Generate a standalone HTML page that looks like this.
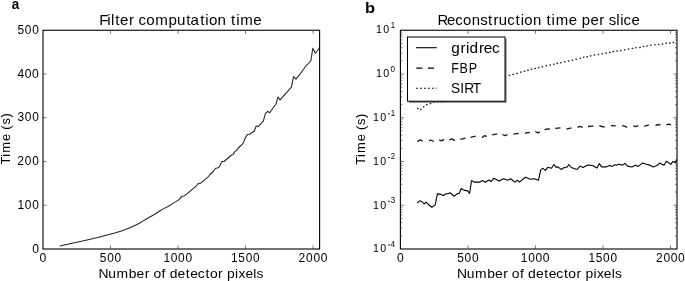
<!DOCTYPE html><html><head><meta charset="utf-8"><style>html,body{margin:0;padding:0;background:#fff;overflow:hidden;}svg{display:block;filter:grayscale(1);}</style></head><body><svg width="685" height="281" viewBox="0 0 685 281">
<rect width="685" height="281" fill="#fff"/>
<g font-family="Liberation Sans, sans-serif" fill="#000">
<text transform="scale(0.9164,1)" x="12.89" y="9.00" font-size="14.71" font-weight="bold">a</text>
<text transform="scale(1.1092,1)" x="329.07" y="12.60" font-size="14.85" font-weight="bold">b</text>
<text transform="scale(1.0432,1)" x="95.14 102.70 106.39 110.38 115.11 123.74 124.74 132.72 140.18 148.72 161.44 169.74 178.55 182.72 191.87 196.76 200.24 208.53 209.53 221.49 226.38 230.28 242.82" y="25.30" font-size="14.52">Filter computation time</text>
<text transform="scale(1.0300,1)" x="424.82 434.04 442.08 449.64 458.03 466.25 473.86 479.14 484.25 492.47 500.53 505.48 509.02 517.42 518.42 530.52 535.46 539.47 552.14 553.14 564.85 573.19 581.92 582.92 591.07 598.36 602.09 605.47 613.07" y="25.30" font-size="14.52">Reconstruction time per slice</text>
<text transform="scale(1.0489,1)" x="93.91 103.29 111.18 122.71 130.17 138.00 139.00 146.27 154.05 155.05 161.74 169.34 177.17 181.44 188.63 195.87 200.10 207.93 208.93 216.41 224.03 227.39 233.95 241.50 244.54" y="277.80" font-size="13.23">Number of detector pixels</text>
<text transform="scale(1.0489,1)" x="435.64 445.02 452.91 464.44 471.90 479.73 480.73 488.00 495.78 496.78 503.46 511.06 518.89 523.16 530.36 537.60 541.82 549.65 550.65 558.14 565.76 569.12 575.67 583.22 586.26" y="277.80" font-size="13.23">Number of detector pixels</text>
<text transform="translate(10.10,164.60) rotate(-90) scale(0.9821,1)" x="0.23 8.06 12.06 24.00 25.00 35.58 40.71 47.87" y="0" font-size="13.15">Time (s)</text>
<text transform="translate(364.50,164.90) rotate(-90) scale(0.9821,1)" x="0.23 8.06 12.06 24.00 25.00 35.58 40.71 47.87" y="0" font-size="13.15">Time (s)</text>
<text transform="scale(1.0042,1)" x="39.46" y="261.60" font-size="12.08">0</text>
<text transform="scale(1.0042,1)" x="395.37" y="261.60" font-size="12.08">0</text>
<text transform="scale(0.9857,1)" x="101.24 108.71 116.14" y="261.60" font-size="12.08">500</text>
<text transform="scale(0.9857,1)" x="463.84 471.31 478.73" y="261.60" font-size="12.08">500</text>
<text transform="scale(0.9937,1)" x="164.47 171.89 179.25 186.61" y="261.60" font-size="12.08">1000</text>
<text transform="scale(0.9937,1)" x="524.11 531.54 538.90 546.26" y="261.60" font-size="12.08">1000</text>
<text transform="scale(0.9795,1)" x="235.85 243.33 250.85 258.32" y="261.60" font-size="12.08">1500</text>
<text transform="scale(0.9795,1)" x="600.73 608.21 615.73 623.19" y="261.60" font-size="12.08">1500</text>
<text transform="scale(0.9952,1)" x="300.04 307.55 314.90 322.25" y="261.60" font-size="12.08">2000</text>
<text transform="scale(0.9952,1)" x="659.16 666.67 674.02 681.37" y="261.60" font-size="12.08">2000</text>
<text transform="scale(1.0042,1)" x="32.00" y="252.70" font-size="12.08">0</text>
<text transform="scale(0.9901,1)" x="17.66 25.11 32.50" y="208.95" font-size="12.08">100</text>
<text transform="scale(0.9922,1)" x="17.52 25.05 32.43" y="165.20" font-size="12.08">200</text>
<text transform="scale(0.9910,1)" x="17.71 25.08 32.47" y="121.45" font-size="12.08">300</text>
<text transform="scale(1.0039,1)" x="17.43 24.72 32.01" y="77.70" font-size="12.08">400</text>
<text transform="scale(0.9857,1)" x="17.77 25.24 32.66" y="33.95" font-size="12.08">500</text>
<text transform="scale(1.0034,1)" x="389.15" y="246.90" font-size="8.19">4</text>
<rect x="388.0" y="244.55" width="1.9" height="0.9"/>
<text transform="scale(0.9140,1)" x="408.15 415.92" y="252.40" font-size="11.65">10</text>
<text transform="scale(0.9644,1)" x="405.16" y="203.15" font-size="8.19">3</text>
<rect x="388.0" y="200.80" width="1.9" height="0.9"/>
<text transform="scale(0.9140,1)" x="408.15 415.92" y="208.65" font-size="11.65">10</text>
<text transform="scale(0.9670,1)" x="404.13" y="159.35" font-size="8.19">2</text>
<rect x="388.0" y="157.05" width="1.9" height="0.9"/>
<text transform="scale(0.9140,1)" x="408.15 415.92" y="164.85" font-size="11.65">10</text>
<text transform="scale(0.9590,1)" x="407.52" y="115.60" font-size="8.19">1</text>
<rect x="388.0" y="113.30" width="1.9" height="0.9"/>
<text transform="scale(0.9140,1)" x="408.15 415.92" y="121.10" font-size="11.65">10</text>
<text transform="scale(1.0042,1)" x="388.92" y="71.60" font-size="8.19">0</text>
<text transform="scale(0.9140,1)" x="411.43 419.21" y="77.10" font-size="11.65">10</text>
<text transform="scale(0.9590,1)" x="407.52" y="27.85" font-size="8.19">1</text>
<text transform="scale(0.9140,1)" x="411.43 419.21" y="33.35" font-size="11.65">10</text>
<rect x="43.0" y="30.25" width="276.60" height="218.75" fill="none" stroke="#000" stroke-width="1.1"/>
<rect x="400.4" y="30.25" width="276.60" height="218.75" fill="none" stroke="#000" stroke-width="1.1"/>
<path d="M110.53 249.00V245.40M110.53 30.25V33.85M467.93 249.00V245.40M467.93 30.25V33.85M178.06 249.00V245.40M178.06 30.25V33.85M535.46 249.00V245.40M535.46 30.25V33.85M245.59 249.00V245.40M245.59 30.25V33.85M602.99 249.00V245.40M602.99 30.25V33.85M313.12 249.00V245.40M313.12 30.25V33.85M670.52 249.00V245.40M670.52 30.25V33.85M43.00 205.25H46.60M43.00 161.50H46.60M43.00 117.75H46.60M43.00 74.00H46.60M400.40 235.83H402.40M677.00 235.83H675.00M400.40 228.13H402.40M677.00 228.13H675.00M400.40 222.66H402.40M677.00 222.66H675.00M400.40 218.42H402.40M677.00 218.42H675.00M400.40 214.96H402.40M677.00 214.96H675.00M400.40 212.03H402.40M677.00 212.03H675.00M400.40 209.49H402.40M677.00 209.49H675.00M400.40 207.25H402.40M677.00 207.25H675.00M400.40 205.25H404.00M677.00 205.25H673.40M400.40 192.08H402.40M677.00 192.08H675.00M400.40 184.38H402.40M677.00 184.38H675.00M400.40 178.91H402.40M677.00 178.91H675.00M400.40 174.67H402.40M677.00 174.67H675.00M400.40 171.21H402.40M677.00 171.21H675.00M400.40 168.28H402.40M677.00 168.28H675.00M400.40 165.74H402.40M677.00 165.74H675.00M400.40 163.50H402.40M677.00 163.50H675.00M400.40 161.50H404.00M677.00 161.50H673.40M400.40 148.33H402.40M677.00 148.33H675.00M400.40 140.63H402.40M677.00 140.63H675.00M400.40 135.16H402.40M677.00 135.16H675.00M400.40 130.92H402.40M677.00 130.92H675.00M400.40 127.46H402.40M677.00 127.46H675.00M400.40 124.53H402.40M677.00 124.53H675.00M400.40 121.99H402.40M677.00 121.99H675.00M400.40 119.75H402.40M677.00 119.75H675.00M400.40 117.75H404.00M677.00 117.75H673.40M400.40 104.58H402.40M677.00 104.58H675.00M400.40 96.88H402.40M677.00 96.88H675.00M400.40 91.41H402.40M677.00 91.41H675.00M400.40 87.17H402.40M677.00 87.17H675.00M400.40 83.71H402.40M677.00 83.71H675.00M400.40 80.78H402.40M677.00 80.78H675.00M400.40 78.24H402.40M677.00 78.24H675.00M400.40 76.00H402.40M677.00 76.00H675.00M400.40 74.00H404.00M677.00 74.00H673.40M400.40 60.83H402.40M677.00 60.83H675.00M400.40 53.13H402.40M677.00 53.13H675.00M400.40 47.66H402.40M677.00 47.66H675.00M400.40 43.42H402.40M677.00 43.42H675.00M400.40 39.96H402.40M677.00 39.96H675.00M400.40 37.03H402.40M677.00 37.03H675.00M400.40 34.49H402.40M677.00 34.49H675.00M400.40 32.25H402.40M677.00 32.25H675.00" stroke="#444" stroke-width="0.7" fill="none"/>
<defs><clipPath id="c1"><rect x="43.0" y="30.25" width="276.6" height="218.75"/></clipPath><clipPath id="c2"><rect x="400.4" y="30.25" width="276.6" height="218.75"/></clipPath></defs>
<g clip-path="url(#c1)">
<path d="M59.80 246.00 L71.00 243.40 L84.90 240.50 L97.70 237.60 L106.30 235.20 L114.80 233.10 L121.40 230.90 L130.00 227.70 L139.00 223.50 L142.70 221.10 L146.40 219.00 L151.20 216.20 L153.90 214.80 L159.80 211.00 L162.40 209.40 L169.90 205.50 L171.00 204.60 L176.30 201.40 L179.00 199.60 L181.70 196.60 L184.40 195.70 L187.00 193.80 L196.10 186.20 L198.20 183.50 L200.40 183.30 L208.40 176.60 L210.10 174.50 L213.30 171.50 L215.50 168.30 L217.60 168.00 L219.20 166.90 L221.90 161.50 L224.00 161.50 L231.00 155.50 L233.10 154.40 L234.70 151.90 L236.80 150.10 L237.80 148.50 L243.10 143.40 L245.30 137.80 L247.40 134.60 L249.60 134.30 L254.30 131.00 L256.20 126.00 L258.40 126.40 L263.30 121.20 L265.40 113.70 L267.60 111.30 L269.70 112.70 L273.20 107.70 L275.90 104.20 L278.00 97.00 L280.10 99.90 L291.40 87.10 L293.60 76.50 L296.00 79.10 L299.60 74.70 L306.00 65.80 L310.80 61.00 L312.80 48.30 L315.40 53.30 L318.80 48.70 L319.60 47.00" fill="none" stroke="#000" stroke-width="1.1" stroke-linejoin="round" style="stroke:#222;stroke-width:1.05"/>
</g>
<g clip-path="url(#c2)">
<path d="M417.30 203.00 L419.80 200.80 L421.70 201.40 L424.10 204.00 L426.20 202.10 L428.70 204.80 L431.90 207.20 L435.10 205.10 L437.40 193.90 L441.00 194.40 L443.60 195.50 L445.80 193.90 L447.90 193.70 L450.00 192.80 L454.30 196.20 L457.00 193.90 L459.30 193.30 L461.20 188.50 L463.90 190.10 L467.60 190.90 L469.60 193.30 L471.60 180.50 L474.10 182.10 L479.90 182.10 L482.30 180.50 L485.30 182.30 L489.00 180.00 L491.20 181.50 L493.60 178.30 L499.20 181.00 L503.40 178.70 L507.70 180.20 L510.70 178.70 L515.00 182.10 L517.30 180.20 L519.40 182.10 L525.30 177.30 L530.70 179.20 L534.40 178.70 L538.40 180.30 L540.80 169.60 L543.00 168.30 L545.40 170.40 L547.80 167.30 L551.50 168.30 L553.90 164.50 L556.10 167.30 L557.90 166.90 L561.10 169.40 L564.80 167.30 L567.00 167.30 L568.90 164.50 L571.20 167.50 L575.50 169.10 L577.10 169.30 L580.10 166.10 L583.00 167.40 L587.80 165.10 L592.60 165.50 L596.90 168.00 L599.30 163.70 L601.70 166.90 L606.00 166.90 L609.70 165.50 L612.40 166.40 L614.70 164.80 L616.60 165.30 L618.80 164.20 L622.50 165.10 L625.00 163.40 L627.60 166.10 L631.70 167.00 L635.70 165.30 L638.30 166.40 L642.60 162.90 L646.40 164.20 L649.60 165.10 L653.30 166.90 L657.00 165.50 L659.70 163.10 L664.00 165.30 L666.40 161.20 L670.90 164.40 L672.80 161.50 L675.20 162.60 L677.00 158.90" fill="none" stroke="#000" stroke-width="1.1" stroke-linejoin="round" />
<path d="M417.30 141.60 L419.90 140.00 L422.60 140.80M429.00 140.80 L430.70 140.00 L433.90 141.50M439.20 139.80 L441.20 140.80 L444.20 139.30M449.40 139.80 L451.90 138.90 L454.90 140.60M460.30 139.40 L465.40 138.20M470.50 137.40 L475.70 136.20M481.90 137.80 L484.40 135.70 L486.60 136.50M492.20 134.90 L497.30 133.80M502.40 134.50 L505.00 135.60 L507.50 134.70M513.40 134.20 L518.80 133.40M524.90 133.40 L527.20 132.70 L529.80 132.50M535.20 131.50 L537.90 132.90 L539.80 131.70M544.50 130.00 L547.00 128.90 L550.00 129.20M555.40 128.50 L557.60 128.20 L560.50 127.90M566.40 129.10 L571.50 127.80M577.70 127.40 L579.50 126.40 L582.70 127.40M588.00 126.50 L593.50 126.20M599.30 125.60 L601.90 126.50 L604.80 127.10M611.00 125.60 L615.80 125.80M622.00 125.60 L624.50 126.20 L627.10 127.30M633.20 125.90 L635.80 126.60 L638.30 125.50M644.20 126.30 L648.90 124.90M655.50 125.70 L657.70 124.60 L660.60 124.90M666.40 124.90 L668.60 124.20 L671.20 124.80" fill="none" stroke="#1a1a1a" stroke-width="1.35" stroke-linejoin="round"/>
<path d="M417.18 108.30L418.62 108.70M420.08 109.52L421.52 109.08M423.11 107.16L424.29 106.24M426.11 104.90L427.49 104.30M429.79 103.93L431.21 103.47M433.18 102.50L434.62 102.10M436.55 101.87L438.05 101.73M439.95 101.72L441.45 101.68M443.45 101.62L444.95 101.58M504.57 76.58L506.03 76.22M508.67 75.58L510.13 75.22M512.47 74.59L513.93 74.21M516.28 73.61L517.72 73.19M520.08 72.41L521.52 71.99M523.77 71.39L525.23 71.01M527.28 70.50L528.72 70.10M530.77 69.48L532.23 69.12M534.37 68.67L535.83 68.33M537.97 67.77L539.43 67.43M541.67 66.96L543.13 66.64M545.67 66.07L547.13 65.73M549.47 65.17L550.93 64.83M553.17 64.36L554.63 64.04M556.67 63.57L558.13 63.23M560.17 62.76L561.63 62.44M564.07 61.95L565.53 61.65M567.87 61.15L569.33 60.85M571.67 60.36L573.13 60.04M575.47 59.47L576.93 59.13M579.68 58.49L581.12 58.11M582.97 57.46L584.43 57.14M586.46 56.95L587.94 56.65M589.97 56.07L591.43 55.73M593.66 55.23L595.14 54.97M597.66 54.62L599.14 54.38M601.56 53.93L603.04 53.67M605.36 53.24L606.84 52.96M609.07 52.55L610.53 52.25M612.56 51.74L614.04 51.46M616.26 51.12L617.74 50.88M619.96 50.52L621.44 50.28M623.96 49.94L625.44 49.66M627.86 49.02L629.34 48.78M631.66 48.61L633.14 48.39M635.26 47.91L636.74 47.69M639.26 47.53L640.74 47.27M642.77 46.66L644.23 46.34M646.26 46.02L647.74 45.78M650.06 45.40L651.54 45.20M654.15 44.88L655.65 44.72M657.96 44.59L659.44 44.41M661.76 44.02L663.24 43.78M665.56 43.40L667.04 43.20M669.16 42.99L670.64 42.81M672.66 42.51L674.14 42.29" fill="none" stroke="#111" stroke-width="1.3"/>
</g>
<rect x="409.10" y="38.60" width="97.50" height="64.20" fill="#666" opacity="0.85"/>
<rect x="407.50" y="37.00" width="97.50" height="64.20" fill="#fff" stroke="#000" stroke-width="1.0"/>
<path d="M416 47.7H436.7" stroke="#000" stroke-width="1.1"/>
<path d="M416.3 68.1H436.7" stroke="#000" stroke-width="1.1" stroke-dasharray="6.1 5.5"/>
<path d="M416.1 88.2H436.7" stroke="#000" stroke-width="1.1" stroke-dasharray="1.8 2.15"/>
<g font-family="Liberation Sans, sans-serif" fill="#000">
<text transform="scale(1.0543,1)" x="427.95 436.78 441.90 445.40 454.23 458.87 466.77" y="53.30" font-size="14.59">gridrec</text>
<text transform="scale(0.8628,1)" x="522.92 532.66 543.34" y="72.60" font-size="14.59">FBP</text>
<text transform="scale(0.9352,1)" x="482.37 492.04 496.40 505.59" y="92.80" font-size="14.59">SIRT</text>
</g>
</svg></body></html>
